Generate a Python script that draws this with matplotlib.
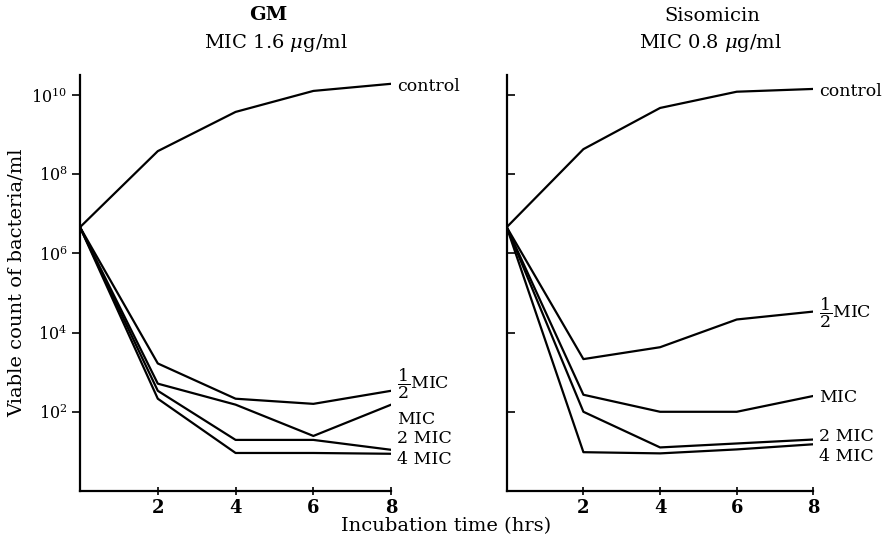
import numpy as np
import matplotlib
matplotlib.use("Agg")
import matplotlib.pyplot as plt
from matplotlib.ticker import FixedLocator, NullLocator

plt.rcParams['font.family'] = ['DejaVu Serif']
plt.rcParams['mathtext.fontset'] = 'dejavuserif'

# incubation time (hrs)
hours = [0, 2, 4, 6, 8]

# log10 viable count of bacteria/ml, GM
gm_control = [6.66, 8.58, 9.57, 10.10, 10.28]
gm_half = [6.66, 3.22, 2.33, 2.20, 2.53]
gm_mic = [6.66, 2.71, 2.18, 1.39, 2.18]
gm_2mic = [6.66, 2.53, 1.29, 1.29, 1.04]
gm_4mic = [6.66, 2.33, 0.96, 0.96, 0.94]

# log10 viable count of bacteria/ml, Sisomicin
sis_control = [6.66, 8.63, 9.67, 10.08, 10.15]
sis_half = [6.66, 3.33, 3.63, 4.33, 4.53]
sis_mic = [6.66, 2.43, 2.00, 2.00, 2.40]
sis_2mic = [6.66, 2.00, 1.10, 1.20, 1.30]
sis_4mic = [6.66, 0.98, 0.95, 1.05, 1.18]

curve_names = ["control", r"$\dfrac{1}{2}$MIC", "MIC", "2 MIC", "4 MIC"]
gm_offsets = [(4, -2), (4, 5), (4, -11), (4, 8), (4, -4)]
sis_offsets = [(4, -2), (4, -1), (4, -1), (4, 2), (4, -9)]

fig = plt.figure(figsize=(8.89, 5.48), dpi=100)
ax1 = fig.add_axes([0.090, 0.104, 0.350, 0.759])
ax2 = fig.add_axes([0.570, 0.104, 0.345, 0.759])


def draw(ax, series, offsets, inward):
    for ys, name, off in zip(series, curve_names, offsets):
        vals = [10 ** v for v in ys]
        ax.plot(hours, vals, color='black', lw=1.6)
        ax.annotate(name, xy=(hours[-1], vals[-1]), xytext=off,
                    textcoords='offset points', va='center', ha='left',
                    fontsize=12.5, annotation_clip=False)
    ax.set_yscale('log')
    ax.set_xlim(0, 8)
    ax.set_ylim(1, 10 ** 10.5)
    ax.spines['top'].set_visible(False)
    ax.spines['right'].set_visible(False)
    for s in ['left', 'bottom']:
        ax.spines[s].set_linewidth(1.6)
    ax.xaxis.set_major_locator(FixedLocator([2, 4, 6, 8]))
    ax.yaxis.set_major_locator(FixedLocator([1e2, 1e4, 1e6, 1e8, 1e10]))
    ax.yaxis.set_minor_locator(NullLocator())
    ax.tick_params(axis='x', direction='inout', length=6, width=1.2,
                   labelsize=13, pad=3)
    ax.tick_params(axis='y', direction='in' if inward else 'out',
                   length=6, width=1.2, labelsize=11.5, pad=3)
    for lab in ax.get_xticklabels():
        lab.set_fontweight('bold')


draw(ax1, [gm_control, gm_half, gm_mic, gm_2mic, gm_4mic], gm_offsets, False)
draw(ax2, [sis_control, sis_half, sis_mic, sis_2mic, sis_4mic], sis_offsets, True)
ax2.set_yticklabels([])

ax1.set_ylabel("Viable count of bacteria/ml", fontsize=14, labelpad=4)
fig.text(0.502, 0.040, "Incubation time (hrs)", ha='center', va='center', fontsize=14)

fig.text(0.302, 0.972, "GM", ha='center', va='center', fontsize=14, fontweight='bold')
fig.text(0.310, 0.921, r"MIC 1.6 $\mu$g/ml", ha='center', va='center', fontsize=14)
fig.text(0.801, 0.970, "Sisomicin", ha='center', va='center', fontsize=14)
fig.text(0.799, 0.921, r"MIC 0.8 $\mu$g/ml", ha='center', va='center', fontsize=14)

fig.savefig("out.png", dpi=100)
